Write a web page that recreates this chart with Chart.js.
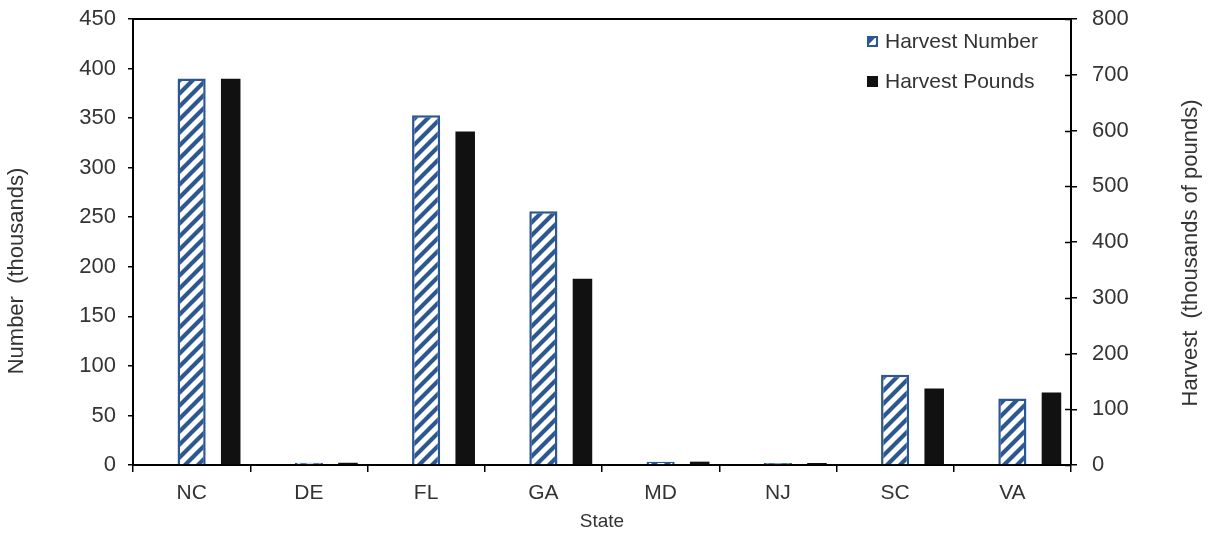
<!DOCTYPE html>
<html>
<head>
<meta charset="utf-8">
<script src="https://cdn.jsdelivr.net/npm/chart.js@4/dist/chart.umd.min.js"></script>
<style>
  html, body { margin: 0; padding: 0; background: #fff; }
</style>
</head>
<body>
<canvas id="chart" width="1211" height="535"></canvas>
<script>
const states = ['NC', 'DE', 'FL', 'GA', 'MD', 'NJ', 'SC', 'VA'];
const harvestNumber = [390, 2.3, 353, 256, 3.3, 2, 91, 67];     // thousands of fish
const harvestPounds = [693, 4, 598, 334, 6, 3.6, 137, 130];     // thousands of pounds
const numberAxis = { min: 0, max: 450, step: 50 };
const poundsAxis = { min: 0, max: 800, step: 100 };

const BLUE = '#2C5791';
const TEXT = '#333333';
const FONT = '"Liberation Sans", Arial, sans-serif';

Chart.defaults.font.family = FONT;

const canvas = document.getElementById('chart');
const ctx = canvas.getContext('2d');

// white tile with blue "/" stripes
function hatch(color) {
    const s = 13;
    const tile = document.createElement('canvas');
    tile.width = s;
    tile.height = s;
    const g = tile.getContext('2d');
    g.fillStyle = '#fff';
    g.fillRect(0, 0, s, s);
    g.strokeStyle = color;
    g.lineWidth = 4.2;
    g.beginPath();
    g.moveTo(0, s); g.lineTo(s, 0);
    g.moveTo(-3, 3); g.lineTo(3, -3);
    g.moveTo(s - 3, s + 3); g.lineTo(s + 3, s - 3);
    g.stroke();
    return ctx.createPattern(tile, 'repeat');
}
const stripes = hatch(BLUE);

// vertical text reading bottom-up, centred on (x, y)
function upText(c, text, x, y) {
    c.save();
    c.translate(x, y);
    c.rotate(-Math.PI / 2);
    c.textAlign = 'center';
    c.textBaseline = 'middle';
    c.fillText(text, 0, 0);
    c.restore();
}

// frame top, inner half of right ticks, both axis titles and the legend
const extras = {
    id: 'extras',
    afterDraw(chart) {
        const { ctx, chartArea: a, scales } = chart;
        ctx.save();
        ctx.strokeStyle = '#000';
        ctx.lineWidth = 2;
        ctx.beginPath();
        ctx.moveTo(a.left - 1, a.top);
        ctx.lineTo(a.right + 1, a.top);
        ctx.stroke();

        ctx.lineWidth = 1.5;
        ctx.beginPath();
        scales.y2.ticks.forEach(t => {
            const y = Math.round(scales.y2.getPixelForValue(t.value)) + 0.5;
            ctx.moveTo(a.right - 6, y);
            ctx.lineTo(a.right, y);
        });
        ctx.stroke();

        ctx.fillStyle = TEXT;
        ctx.font = '22px ' + FONT;
        upText(ctx, 'Number  (thousands)', 17, 271);
        upText(ctx, 'Harvest  (thousands of pounds)', 1191, 253);

        ctx.font = '21px ' + FONT;
        const lx = a.right - 204;
        chart.data.datasets.filter(d => d.label).forEach((d, i) => {
            const y = a.top + 17 + i * 40;
            ctx.fillStyle = d.backgroundColor;
            ctx.fillRect(lx, y, 11, 11);
            if (d.borderWidth) {
                ctx.strokeStyle = d.borderColor;
                ctx.lineWidth = 2;
                ctx.strokeRect(lx + 1, y + 1, 9, 9);
            }
            ctx.fillStyle = TEXT;
            ctx.textAlign = 'left';
            ctx.textBaseline = 'middle';
            ctx.fillText(d.label, lx + 18, y + 6);
        });
        ctx.restore();
    }
};

const tickGrid = { drawOnChartArea: false, color: '#000', lineWidth: 1.5 };
const axisBorder = { display: true, color: '#000', width: 2 };

// fixed box sizes so the plot area lands where the original has it
function fixWidth(w) {
    return s => {
        s.width = w;
        s.paddingTop = 0;
        s.paddingBottom = 0;
    };
}

new Chart(ctx, {
    type: 'bar',
    data: {
        labels: states,
        datasets: [
            {
                // spacer so the hatched bar sits on the category centre
                data: states.map(() => null),
                backgroundColor: 'transparent',
                categoryPercentage: 1,
                barPercentage: 0.5
            },
            {
                label: 'Harvest Number',
                data: harvestNumber,
                yAxisID: 'y',
                backgroundColor: stripes,
                borderColor: BLUE,
                borderWidth: 2.5,
                categoryPercentage: 1,
                barPercentage: 0.72
            },
            {
                label: 'Harvest Pounds',
                data: harvestPounds,
                yAxisID: 'y2',
                backgroundColor: '#111111',
                borderWidth: 0,
                categoryPercentage: 1,
                barPercentage: 0.5
            }
        ]
    },
    options: {
        responsive: false,
        animation: false,
        layout: { padding: { top: 19, left: 0, right: 0, bottom: 0 } },
        plugins: {
            legend: { display: false },
            tooltip: { enabled: false }
        },
        scales: {
            x: {
                grid: { ...tickGrid, offset: true, tickLength: 7 },
                border: axisBorder,
                ticks: { color: TEXT, font: { size: 21 }, padding: 9 },
                title: { display: true, text: 'State', color: TEXT, font: { size: 19 }, padding: { top: 0, bottom: 2 } },
                afterFit: s => { s.height = 70; s.paddingLeft = 0; s.paddingRight = 0; }
            },
            y: {
                position: 'left',
                min: numberAxis.min,
                max: numberAxis.max,
                grid: { ...tickGrid, tickLength: 5 },
                border: axisBorder,
                ticks: { stepSize: numberAxis.step, color: TEXT, font: { size: 22 }, padding: 12 },
                afterFit: fixWidth(133)
            },
            y2: {
                position: 'right',
                min: poundsAxis.min,
                max: poundsAxis.max,
                grid: { ...tickGrid, tickLength: 6 },
                border: axisBorder,
                ticks: { stepSize: poundsAxis.step, color: TEXT, font: { size: 22 }, padding: 15 },
                afterFit: fixWidth(140)
            }
        }
    },
    plugins: [extras]
});
</script>
</body>
</html>
